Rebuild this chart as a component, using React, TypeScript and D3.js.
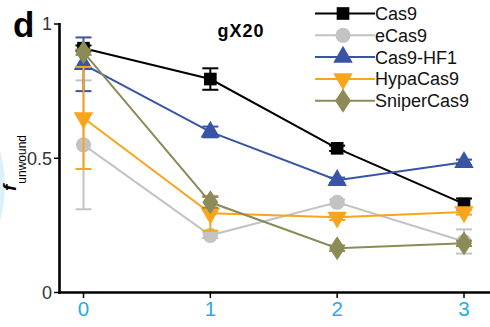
import React from "react";
import * as d3 from "d3";

// Mismatch counts along the x axis
const positions = [0, 1, 2, 3];
const xTickLabels = ["0", "1", "2", "3"];
const yTicks = [0, 0.5, 1];
const yTickLabels = ["0", "0.5", "1"];

const seriesNames = ["Cas9", "eCas9", "Cas9-HF1", "HypaCas9", "SniperCas9"];
const seriesColors = ["#000000", "#c3c3c3", "#3a54a5", "#f9a51b", "#8c8b57"];
const seriesShapes = ["square", "circle", "triangleUp", "triangleDown", "diamond"];

// Fraction unwound (mean) per variant
const cas9Values = [0.91, 0.795, 0.537, 0.33];
const eCas9Values = [0.55, 0.213, 0.336, 0.19];
const hf1Values = [0.85, 0.598, 0.418, 0.485];
const hypaValues = [0.65, 0.295, 0.28, 0.30];
const sniperValues = [0.895, 0.336, 0.165, 0.183];

// Error (± half-range) per variant
const cas9Errors = [0.01, 0.04, 0.01, 0.02];
const eCas9Errors = [0.24, 0.01, 0.01, 0.045];
const hf1Errors = [0.10, 0.02, 0.01, 0.01];
const hypaErrors = [0.19, 0.065, 0.01, 0.01];
const sniperErrors = [0.01, 0.02, 0.01, 0.01];

const allValues = [cas9Values, eCas9Values, hf1Values, hypaValues, sniperValues];
const allErrors = [cas9Errors, eCas9Errors, hf1Errors, hypaErrors, sniperErrors];

const W = 490;
const H = 327;
const FONT = "'Liberation Sans', Arial, Helvetica, sans-serif";
const TICK_COLOR = "#333333";
const XLABEL_COLOR = "#29abe2";

const x = d3.scaleLinear().domain([0, 3]).range([83.5, 464]);
const y = d3.scaleLinear().domain([0, 1]).range([292.5, 24]);

const symbolFor = (shape: string) => {
  switch (shape) {
    case "square":
      return d3.symbol().type(d3.symbolSquare).size(160)();
    case "circle":
      return d3.symbol().type(d3.symbolCircle).size(180)();
    case "triangleUp":
      return d3.symbol().type(d3.symbolTriangle).size(165)();
    case "triangleDown":
      return d3.symbol().type(d3.symbolTriangle).size(165)();
    case "diamond":
      return d3.symbol().type(d3.symbolDiamond).size(165)();
    default:
      return "";
  }
};

const Marker = ({ shape, cx, cy, color }: { shape: string; cx: number; cy: number; color: string }) => {
  const rot = shape === "triangleDown" ? " rotate(180)" : "";
  const sc = shape === "diamond" ? " scale(1.15,1)" : "";
  return (
    <path
      d={symbolFor(shape) || ""}
      transform={`translate(${cx},${cy})${rot}${sc}`}
      fill={color}
    />
  );
};

export default function App() {
  const line = d3
    .line<number>()
    .x((_, i) => x(positions[i]))
    .y((v) => y(v));

  const capHalf = 8;

  return (
    <svg width={W} height={H} style={{ display: "block", position: "absolute", left: 0, top: 0 }}>
      <rect width={W} height={H} fill="#ffffff" />

      {/* edge of neighbouring panel element */}
      <circle cx={-120} cy={186} r={125} fill="#d3eef8" opacity={0.85} />

      {/* panel letter and title */}
      <text x={13} y={37} fontFamily={FONT} fontWeight="bold" fontSize={35} fill="#000">d</text>
      <text x={241} y={37} textAnchor="middle" fontFamily={FONT} fontWeight="bold" fontSize={18} letterSpacing={1} fill="#000">
        gX20
      </text>

      {/* y axis */}
      <line x1={59.5} x2={59.5} y1={y(1) - 1} y2={y(0) + 1.3} stroke="#000" strokeWidth={2.6} />
      {yTicks.map((t, i) => (
        <g key={`yt${i}`}>
          <line x1={54} x2={59.5} y1={y(t)} y2={y(t)} stroke="#000" strokeWidth={1.5} />
          <text
            x={52}
            y={y(t)}
            dy="0.36em"
            textAnchor="end"
            fontFamily={FONT}
            fontSize={18}
            fill={TICK_COLOR}
          >
            {yTickLabels[i]}
          </text>
        </g>
      ))}

      {/* x axis */}
      <line x1={58.2} x2={W} y1={y(0)} y2={y(0)} stroke="#000" strokeWidth={2.6} />
      {positions.map((p, i) => (
        <g key={`xt${i}`}>
          <line x1={x(p)} x2={x(p)} y1={y(0)} y2={y(0) + 5.5} stroke="#000" strokeWidth={1.5} />
          <text
            x={x(p)}
            y={316}
            textAnchor="middle"
            fontFamily={FONT}
            fontSize={20.5}
            fill={XLABEL_COLOR}
          >
            {xTickLabels[i]}
          </text>
        </g>
      ))}

      {/* y label */}
      <text transform="translate(16,191) rotate(-90)" fontFamily={FONT} fill="#000">
        <tspan fontStyle="italic" fontWeight="bold" fontSize={19}>f</tspan>
        <tspan fontSize={12} dy={10} dx={1}>unwound</tspan>
      </text>

      {/* series */}
      {allValues.map((vals, s) => (
        <g key={`s${s}`}>
          <path d={line(vals) || ""} fill="none" stroke={seriesColors[s]} strokeWidth={2} />
          {vals.map((v, i) => {
            const e = allErrors[s][i];
            const cx = x(positions[i]);
            return (
              <g key={`e${s}-${i}`} stroke={seriesColors[s]} strokeWidth={2}>
                <line x1={cx} x2={cx} y1={y(v + e)} y2={y(v - e)} />
                <line x1={cx - capHalf} x2={cx + capHalf} y1={y(v + e)} y2={y(v + e)} />
                <line x1={cx - capHalf} x2={cx + capHalf} y1={y(v - e)} y2={y(v - e)} />
              </g>
            );
          })}
          {vals.map((v, i) => (
            <Marker
              key={`m${s}-${i}`}
              shape={seriesShapes[s]}
              cx={x(positions[i])}
              cy={y(v)}
              color={seriesColors[s]}
            />
          ))}
        </g>
      ))}

      {/* legend */}
      {seriesNames.map((name, i) => {
        const ly = 13.5 + i * 21.8;
        return (
          <g key={`lg${i}`}>
            <line x1={315} x2={375} y1={ly} y2={ly} stroke={seriesColors[i]} strokeWidth={2} />
            <Marker shape={seriesShapes[i]} cx={343} cy={ly} color={seriesColors[i]} />
            <text x={375} y={ly} dy="0.36em" fontFamily={FONT} fontSize={18} fill="#111">
              {name}
            </text>
          </g>
        );
      })}
    </svg>
  );
}
